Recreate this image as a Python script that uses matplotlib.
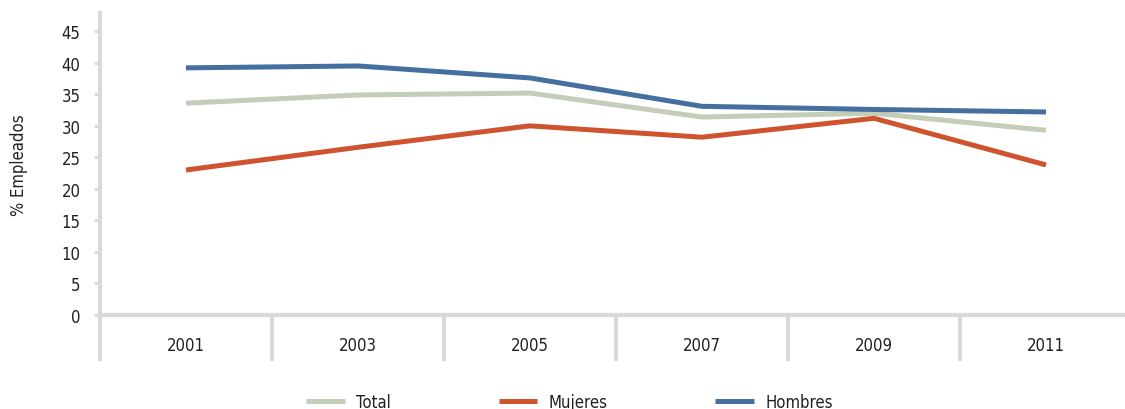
import matplotlib.pyplot as plt
import numpy as np

years = ['2001', '2003', '2005', '2007', '2009', '2011']
total = [33.6, 34.9, 35.2, 31.4, 32.0, 29.3]
mujeres = [23.0, 26.6, 30.0, 28.2, 31.2, 23.8]
hombres = [39.2, 39.5, 37.6, 33.1, 32.6, 32.2]

plt.rcParams['font.family'] = ['DejaVu Sans']
plt.rcParams['font.stretch'] = 'condensed'
grey = '#d9d9d9'
txt = '#231f20'
fs = 12

fig = plt.figure(figsize=(11.25, 4.1), dpi=100)
ax = fig.add_axes([100 / 1125, 94 / 410, 1032 / 1125, 302 / 410])

x = np.arange(len(years))
ax.plot(x, total, color='#c3cdb8', lw=3.6, label='Total', solid_capstyle='butt')
ax.plot(x, mujeres, color='#cf532f', lw=3.6, label='Mujeres', solid_capstyle='butt')
ax.plot(x, hombres, color='#456f9f', lw=3.6, label='Hombres', solid_capstyle='butt')

ax.set_xlim(-0.5, 5.5)
ax.set_ylim(0, 47.9)
ax.set_yticks(range(0, 50, 5))
ax.set_xticks(x)
ax.set_xticklabels(years)
ax.set_xticks(np.arange(-0.5, 5.6, 1), minor=True)

for s in ['top', 'right']:
    ax.spines[s].set_visible(False)
for s in ['left', 'bottom']:
    ax.spines[s].set_color(grey)
    ax.spines[s].set_linewidth(3)

ax.tick_params(axis='y', length=4, width=2, color=grey, pad=10, labelsize=fs, labelcolor=txt)
ax.tick_params(axis='x', which='major', length=0, pad=15, labelsize=fs, labelcolor=txt)
ax.tick_params(axis='x', which='minor', length=33, width=3, color=grey)

ax.set_ylabel('% Empleados', fontsize=fs, color=txt, labelpad=24)

ax.legend(loc='center', bbox_to_anchor=(0.455, -0.288), ncol=3, frameon=False,
          fontsize=fs, handlelength=2.3, columnspacing=6.45, handletextpad=0.7,
          labelcolor=txt)

fig.savefig('out.png', dpi=100)
